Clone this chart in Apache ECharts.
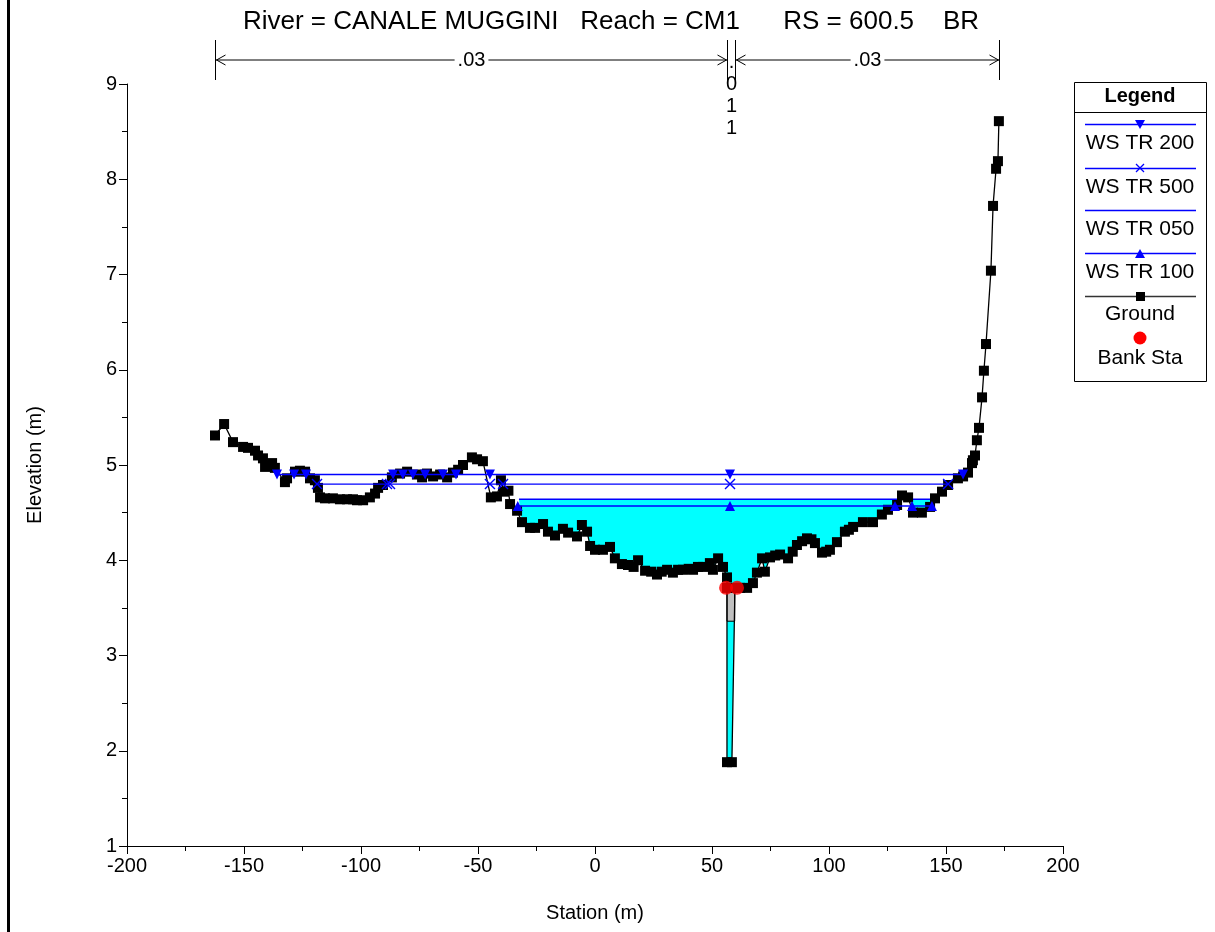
<!DOCTYPE html>
<html>
<head>
<meta charset="utf-8">
<script src="https://cdn.jsdelivr.net/npm/echarts@6/dist/echarts.min.js"></script>
<style>
  html, body { margin: 0; padding: 0; background: #fff; }
  #chart { width: 1215px; height: 932px; }
</style>
</head>
<body>
<div id="chart"></div>
<script>
// ground profile (station m, elevation m)
const groundStation = [
  -162.4, -158.5, -154.7, -150.4, -148.3, -145.3, -144.0, -141.9, -141.0, -138.0,
  -136.8, -132.5, -131.6, -128.2, -126.1, -123.9, -121.8, -119.7, -118.4, -117.5,
  -115.4, -112.0, -109.0, -106.0, -103.4, -101.7, -99.1, -96.2, -94.0, -92.7,
  -90.6, -86.8, -83.3, -80.3, -76.1, -73.9, -71.8, -69.2, -66.2, -63.2,
  -60.7, -58.5, -56.4, -52.6, -50.4, -47.9, -44.5, -41.9, -40.2, -38.9,
  -37.0, -36.3, -33.3, -31.2, -27.8, -25.6, -22.2, -20.1, -17.1, -13.7,
  -11.5, -7.7, -5.6, -3.4, -2.1, 0.0, 3.4, 6.4, 8.5, 11.5,
  14.1, 16.5, 18.4, 21.4, 24.0, 26.5, 28.5, 30.8, 33.3, 35.5,
  37.6, 40.0, 41.9, 44.0, 46.2, 49.1, 50.4, 52.6, 54.7, 56.4,
  56.4, 56.4, 58.5, 59.8, 62.0, 65.0, 67.5, 69.2, 71.4, 72.6,
  74.8, 77.0, 79.1, 82.5, 84.5, 86.3, 88.5, 90.6, 92.5, 94.0,
  97.0, 98.8, 100.4, 103.4, 106.8, 108.5, 110.3, 114.5, 118.8, 122.6,
  125.2, 129.1, 131.2, 133.8, 135.9, 139.7, 143.2, 145.3, 148.3, 150.9,
  155.1, 157.3, 159.4, 161.1, 161.5, 162.4, 163.2, 164.1, 165.4, 166.2,
  167.1, 169.2, 170.1, 171.4, 172.2, 172.6
];
const groundElev = [
  5.31, 5.43, 5.24, 5.19, 5.18, 5.15, 5.10, 5.07, 4.98, 5.02,
  4.97, 4.82, 4.86, 4.93, 4.94, 4.93, 4.86, 4.84, 4.76, 4.66,
  4.65, 4.65, 4.64, 4.64, 4.64, 4.63, 4.63, 4.66, 4.70, 4.76,
  4.79, 4.87, 4.91, 4.93, 4.90, 4.87, 4.91, 4.88, 4.90, 4.87,
  4.92, 4.95, 5.00, 5.08, 5.06, 5.04, 4.66, 4.67, 4.84, 4.72,
  4.73, 4.59, 4.52, 4.40, 4.34, 4.34, 4.38, 4.30, 4.26, 4.33,
  4.29, 4.25, 4.37, 4.30, 4.15, 4.11, 4.11, 4.14, 4.02, 3.96,
  3.95, 3.93, 4.00, 3.89, 3.88, 3.85, 3.88, 3.90, 3.87, 3.90,
  3.90, 3.91, 3.90, 3.93, 3.93, 3.97, 3.90, 4.02, 3.93, 3.82,
  3.71, 1.88, 1.88, 3.71, 3.71, 3.71, 3.76, 3.87, 4.02, 3.88,
  4.03, 4.05, 4.06, 4.02, 4.09, 4.16, 4.20, 4.23, 4.22, 4.18,
  4.08, 4.09, 4.11, 4.19, 4.30, 4.32, 4.35, 4.40, 4.40, 4.48,
  4.53, 4.58, 4.68, 4.66, 4.50, 4.50, 4.56, 4.65, 4.72, 4.79,
  4.86, 4.88, 4.92, 5.02, 5.05, 5.10, 5.26, 5.39, 5.71, 5.99,
  6.27, 7.04, 7.72, 8.11, 8.19, 8.61
];

// water surfaces
const ws200Elev = 4.90;
const ws200Station = [-135.9, -128.6, -123.5, -86.3, -82.1, -77.8, -72.6, -65.0, -59.4, -44.9, 57.7, 157.3];
const ws500Elev = 4.80;
const ws500Station = [-118.8, -88.9, -87.6, -44.9, -39.3, 57.7, 150.9];
const ws050Elev = 4.64;
const ws050Reaches = [[-117.0, -97.0], [-32.5, 145.3]];
const ws100Elev = 4.57;
const ws100Station = [-33.0, 57.7, 128.2, 135.5, 144.0];
// wetted extents filled in cyan (for WS TR 050)
const fillReaches = [[-32.5, 129.5], [134.5, 145.0]];

// bank stations
const bankStation = [56.0, 60.7];
const bankElev = [3.71, 3.71];

// bridge opening block (grey)
const pierStation = [56.4, 59.7];
const pierElev = [3.71, 3.36];

// manning n
const manningBreaks = [-162.4, 56.4, 59.8, 172.6];
const manningValues = ['.03', '.011', '.03'];

const titleText = 'River = CANALE MUGGINI   Reach = CM1      RS = 600.5    BR';
const legendNames = ['WS TR 200', 'WS TR 500', 'WS TR 050', 'WS TR 100', 'Ground', 'Bank Sta'];

const FONT = '"Liberation Sans", Arial, sans-serif';
const BLUE = '#0000ff';

const ground = groundStation.map((x, i) => [x, groundElev[i]]);

function buildFill(x0, x1, level) {
    let pts = [[x0, level]];
    ground.forEach(p => {
        if (p[0] > x0 && p[0] < x1) pts.push([p[0], Math.min(p[1], level)]);
    });
    pts.push([x1, level]);
    return pts;
}
const fillPolys = fillReaches.map(r => buildFill(r[0], r[1], ws050Elev));
const pierPoly = [[pierStation[0], pierElev[0]], [pierStation[1], pierElev[0]], [pierStation[1], pierElev[1]], [pierStation[0], pierElev[1]]];

let ws050Data = [];
ws050Reaches.forEach((r, i) => {
    if (i > 0) ws050Data.push([(ws050Reaches[i - 1][1] + r[0]) / 2, '-']);
    ws050Data.push([r[0], ws050Elev], [r[1], ws050Elev]);
});

const xMark = 'path://M0,0L10,10M10,0L0,10';

let chart = echarts.init(document.getElementById('chart'));
let option = {
    animation: false,
    backgroundColor: '#fff',
    textStyle: { fontFamily: FONT },
    grid: { left: 127, top: 84, width: 936, height: 762 },
    xAxis: {
        type: 'value', min: -200, max: 200, interval: 50,
        axisLine: { onZero: false, lineStyle: { color: '#000', width: 1 } },
        axisTick: { length: 8, lineStyle: { color: '#000' } },
        minorTick: { show: true, splitNumber: 2, length: 5, lineStyle: { color: '#000' } },
        axisLabel: { color: '#000', fontSize: 20, margin: 10, fontFamily: FONT },
        splitLine: { show: false }
    },
    yAxis: {
        type: 'value', min: 1, max: 9, interval: 1,
        axisLine: { show: true, onZero: false, lineStyle: { color: '#000', width: 1 } },
        axisTick: { show: true, length: 8, lineStyle: { color: '#000' } },
        minorTick: { show: true, splitNumber: 2, length: 5, lineStyle: { color: '#000' } },
        axisLabel: { color: '#000', fontSize: 20, margin: 10, fontFamily: FONT },
        splitLine: { show: false }
    },
    series: [
        {
            name: 'fill', type: 'custom', silent: true, z: 1,
            data: fillPolys.map(p => p[0]),
            renderItem: function (params, api) {
                return {
                    type: 'polygon',
                    shape: { points: fillPolys[params.dataIndex].map(p => api.coord(p)) },
                    style: { fill: '#00ffff' }
                };
            }
        },
        {
            name: 'pier', type: 'custom', silent: true, z: 2,
            data: [pierPoly[0]],
            renderItem: function (params, api) {
                return {
                    type: 'polygon',
                    shape: { points: pierPoly.map(p => api.coord(p)) },
                    style: { fill: '#c0c0c0', stroke: '#000', lineWidth: 1 }
                };
            }
        },
        {
            name: 'WS TR 050', type: 'line', z: 3, showSymbol: false, connectNulls: false,
            data: ws050Data,
            lineStyle: { color: BLUE, width: 1.5 }
        },
        {
            name: 'Ground', type: 'line', z: 4,
            data: ground,
            symbol: 'rect', symbolSize: 10,
            itemStyle: { color: '#000' },
            lineStyle: { color: '#000', width: 1.3 }
        },
        {
            name: 'WS TR 200', type: 'line', z: 5,
            data: ws200Station.map(x => [x, ws200Elev]),
            symbol: 'triangle', symbolRotate: 180, symbolSize: 10,
            itemStyle: { color: BLUE },
            lineStyle: { color: BLUE, width: 1.5 }
        },
        {
            name: 'WS TR 500', type: 'line', z: 5,
            data: ws500Station.map(x => [x, ws500Elev]),
            symbol: xMark, symbolSize: 10,
            itemStyle: { color: 'none', borderColor: BLUE, borderWidth: 1.4 },
            lineStyle: { color: BLUE, width: 1.3 }
        },
        {
            name: 'WS TR 100', type: 'line', z: 5,
            data: ws100Station.map(x => [x, ws100Elev]),
            symbol: 'triangle', symbolSize: 10,
            itemStyle: { color: BLUE },
            lineStyle: { color: BLUE, width: 1.5 }
        },
        {
            name: 'Bank Sta', type: 'scatter', z: 6,
            data: bankStation.map((x, i) => [x, bankElev[i]]),
            symbol: 'circle', symbolSize: 14,
            itemStyle: { color: '#ff0000' }
        }
    ]
};
chart.setOption(option);

// pixel helpers via the axes
function px(v) { return chart.convertToPixel({ gridIndex: 0 }, [v, 1])[0]; }

let graphics = [];
// left frame bar
graphics.push({ type: 'rect', shape: { x: 7, y: 0, width: 3, height: 932 }, style: { fill: '#000' } });

// title
graphics.push({
    type: 'text', x: 611, y: 22,
    style: { text: titleText, font: '26px ' + FONT, fill: '#000', align: 'center', verticalAlign: 'middle' }
});

// axis names
graphics.push({
    type: 'text', x: 595, y: 913,
    style: { text: 'Station (m)', font: '20px ' + FONT, fill: '#000', align: 'center', verticalAlign: 'middle' }
});
graphics.push({
    type: 'text', x: 35, y: 465, rotation: Math.PI / 2,
    style: { text: 'Elevation (m)', font: '20px ' + FONT, fill: '#000', align: 'center', verticalAlign: 'middle' }
});

// manning n bars
const nY = 60;
manningBreaks.forEach(b => {
    const x = Math.round(px(b)) + 0.5;
    graphics.push({ type: 'line', shape: { x1: x, y1: 40, x2: x, y2: 80 }, style: { stroke: '#000', lineWidth: 1 } });
});
manningValues.forEach((val, i) => {
    const xa = Math.round(px(manningBreaks[i])) + 0.5;
    const xb = Math.round(px(manningBreaks[i + 1])) + 0.5;
    if (xb - xa > 30) {
        graphics.push({ type: 'line', shape: { x1: xa, y1: nY, x2: xb, y2: nY }, style: { stroke: '#000', lineWidth: 1 } });
        graphics.push({ type: 'polyline', shape: { points: [[xa + 10, nY - 5], [xa + 1, nY], [xa + 10, nY + 5]] }, style: { stroke: '#000', fill: null, lineWidth: 1 } });
        graphics.push({ type: 'polyline', shape: { points: [[xb - 10, nY - 5], [xb - 1, nY], [xb - 10, nY + 5]] }, style: { stroke: '#000', fill: null, lineWidth: 1 } });
        graphics.push({
            type: 'text', x: (xa + xb) / 2, y: nY,
            style: { text: val, font: '20px ' + FONT, fill: '#000', align: 'center', verticalAlign: 'middle', backgroundColor: '#fff', padding: [0, 3] }
        });
    } else {
        const chars = val.split('');
        chars.forEach((c, k) => {
            graphics.push({
                type: 'text', x: (xa + xb) / 2, y: 62 + k * 22,
                style: { text: c, font: '20px ' + FONT, fill: '#000', align: 'center', verticalAlign: 'middle' }
            });
        });
    }
});

// legend box
const lgX = 1074, lgY = 82, lgW = 132, lgH = 299;
const lgCx = lgX + lgW / 2;
graphics.push({ type: 'rect', shape: { x: lgX + 0.5, y: lgY + 0.5, width: lgW, height: lgH }, style: { fill: '#fff', stroke: '#000', lineWidth: 1 } });
graphics.push({ type: 'text', x: lgCx, y: 96, style: { text: 'Legend', font: 'bold 20px ' + FONT, fill: '#000', align: 'center', verticalAlign: 'middle' } });
graphics.push({ type: 'line', shape: { x1: lgX, y1: 112.5, x2: lgX + lgW, y2: 112.5 }, style: { stroke: '#000', lineWidth: 1 } });
const lgLineY = [124, 168, 210, 253, 296];
const lgTextY = [143, 187, 229, 272, 314, 358];
legendNames.forEach((name, i) => {
    graphics.push({ type: 'text', x: lgCx, y: lgTextY[i], style: { text: name, font: '21px ' + FONT, fill: '#000', align: 'center', verticalAlign: 'middle' } });
    if (i < 5) {
        const ly = lgLineY[i] + 0.5;
        graphics.push({ type: 'line', shape: { x1: lgX + 11, y1: ly, x2: lgX + 122, y2: ly }, style: { stroke: i === 4 ? '#333' : BLUE, lineWidth: 1.5 } });
    }
});
graphics.push({ type: 'polygon', shape: { points: [[lgCx - 5, 120], [lgCx + 5, 120], [lgCx, 129]] }, style: { fill: BLUE } });
graphics.push({ type: 'polyline', shape: { points: [[lgCx - 4, 164], [lgCx + 4, 172]] }, style: { stroke: BLUE, lineWidth: 1.3 } });
graphics.push({ type: 'polyline', shape: { points: [[lgCx + 4, 164], [lgCx - 4, 172]] }, style: { stroke: BLUE, lineWidth: 1.3 } });
graphics.push({ type: 'polygon', shape: { points: [[lgCx - 5, 258], [lgCx + 5, 258], [lgCx, 249]] }, style: { fill: BLUE } });
graphics.push({ type: 'rect', shape: { x: lgCx - 4, y: 292, width: 9, height: 9 }, style: { fill: '#000' } });
graphics.push({ type: 'circle', shape: { cx: lgCx, cy: 338, r: 6.5 }, style: { fill: '#ff0000' } });

chart.setOption({ graphic: graphics });
</script>
</body>
</html>
